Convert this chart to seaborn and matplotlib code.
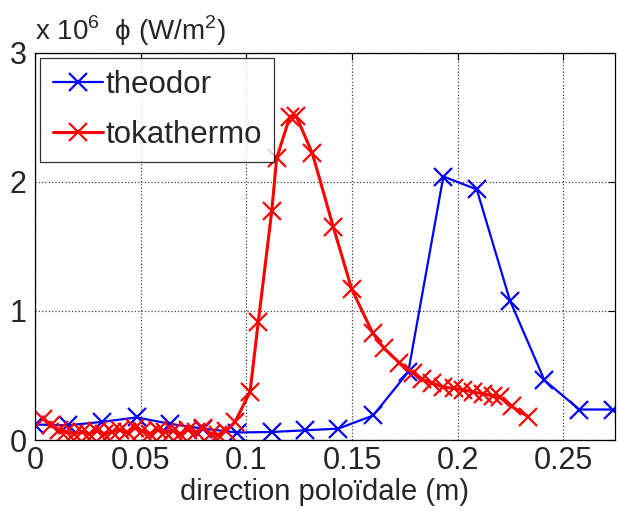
import matplotlib
matplotlib.use("Agg")
import matplotlib.pyplot as plt
import seaborn as sns

# ---- data (flux in units of 1e6 W/m^2) ----
theodor_x = [0.0, 0.0158, 0.0315, 0.0481, 0.0639, 0.0796, 0.0957, 0.112, 0.1277,
             0.1435, 0.160, 0.1766, 0.1932, 0.209, 0.2247, 0.241, 0.2575, 0.2733]
theodor_y = [0.12, 0.114, 0.14, 0.175, 0.125, 0.088, 0.058, 0.062, 0.075,
             0.088, 0.19, 0.527, 2.04, 1.94, 1.08, 0.463, 0.236, 0.236]

toka_x = [0.004, 0.0076, 0.0112, 0.0148, 0.0184, 0.022, 0.0256, 0.0292, 0.0328,
          0.0364, 0.040, 0.0436, 0.0472, 0.0508, 0.0544, 0.058, 0.0616, 0.0652,
          0.0688, 0.0724, 0.076, 0.0796, 0.0832, 0.0868, 0.0904, 0.0946, 0.1017,
          0.1056, 0.1120, 0.1143, 0.1205, 0.1235, 0.1312, 0.1411, 0.1498, 0.1597,
          0.1651, 0.1723, 0.1790, 0.1830, 0.1880, 0.1932, 0.1980, 0.2026, 0.2073,
          0.2120, 0.2168, 0.2200, 0.2255, 0.2334]
toka_y = [0.16, 0.12, 0.08, 0.06, 0.05, 0.06, 0.05, 0.07, 0.05,
          0.06, 0.08, 0.06, 0.09, 0.07, 0.05, 0.08, 0.06, 0.07,
          0.05, 0.08, 0.06, 0.09, 0.05, 0.04, 0.07, 0.14, 0.37,
          0.91, 1.77, 2.18, 2.50, 2.51, 2.22, 1.65, 1.17, 0.83,
          0.71, 0.60, 0.52, 0.47, 0.44, 0.41, 0.40, 0.39, 0.37,
          0.36, 0.34, 0.33, 0.26, 0.18]

x_ticks = [0, 0.05, 0.1, 0.15, 0.2, 0.25]
x_tick_labels = ["0", "0.05", "0.1", "0.15", "0.2", "0.25"]
y_ticks = [0, 1, 2, 3]

# ---- style ----
sns.set_theme(style="white")
plt.rcParams["font.family"] = ["Liberation Sans", "DejaVu Sans"]
plt.rcParams["mathtext.fontset"] = "custom"
plt.rcParams["mathtext.rm"] = "Liberation Sans"
plt.rcParams["xtick.direction"] = "in"
plt.rcParams["ytick.direction"] = "in"

fig = plt.figure(figsize=(6.18, 5.14), dpi=100)
ax = fig.add_axes([35 / 618, 74 / 514, 580 / 618, 387.5 / 514])

sns.lineplot(x=theodor_x, y=theodor_y, ax=ax, color="#0000ff", marker="x",
             markersize=13, markeredgewidth=1.6, markeredgecolor="#0000ff",
             linewidth=1.6, sort=False, estimator=None, label="theodor")
sns.lineplot(x=toka_x, y=toka_y, ax=ax, color="#ff0000", marker="x",
             markersize=13, markeredgewidth=1.6, markeredgecolor="#ff0000",
             linewidth=2.2, sort=False, estimator=None, label="tokathermo")

ax.set_xlim(0, 0.2744)
ax.set_ylim(0, 3)
ax.set_xticks(x_ticks)
ax.set_xticklabels(x_tick_labels)
ax.set_yticks(y_ticks)
ax.tick_params(axis="both", labelsize=22, length=5, width=0.8, color="black",
               top=True, right=True, pad=4)
ax.tick_params(axis="y", pad=6)
ax.grid(True, linestyle=":", color="#404040", linewidth=0.9)

for s in ax.spines.values():
    s.set_color("black")
    s.set_linewidth(0.9)

ax.set_xlabel("direction poloïdale (m)", fontsize=21, labelpad=2)
ax.set_ylabel("")
ax.text(0.0, 1.012, r"x 10$^{6}$  ϕ (W/m$^{2}$)", transform=ax.transAxes,
        fontsize=20, ha="left", va="bottom")

leg = ax.legend(loc="upper left", fontsize=22.5, frameon=True, fancybox=False,
                handlelength=1.6, handletextpad=0.08, borderpad=0.4,
                labelspacing=0.62, borderaxespad=0.17)
leg.get_frame().set_edgecolor("black")
leg.get_frame().set_linewidth(0.9)

fig.savefig("out.png", dpi=100)
